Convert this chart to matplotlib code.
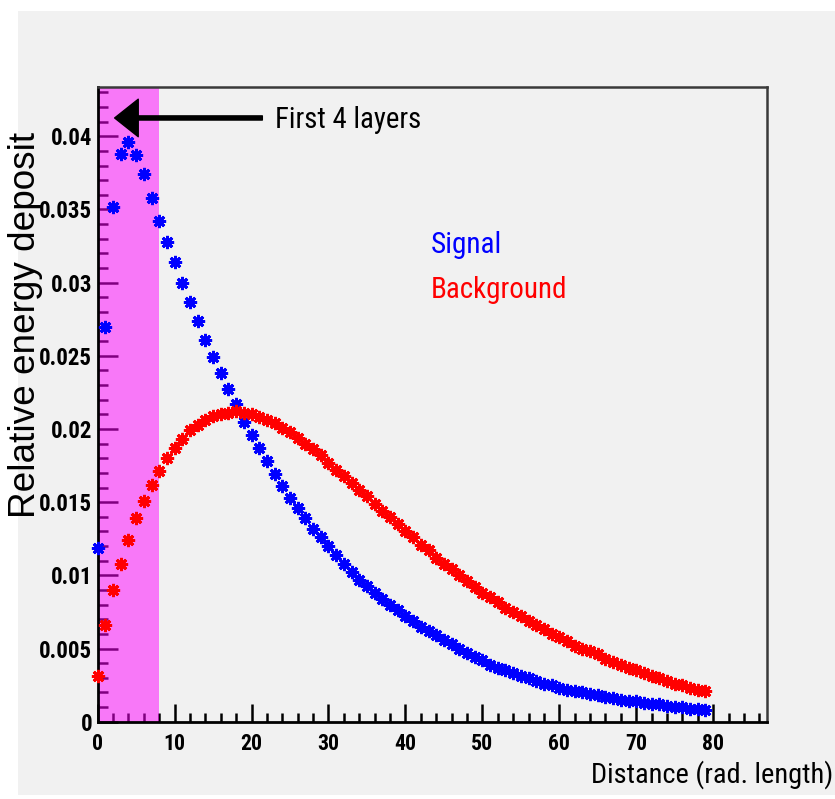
import matplotlib
matplotlib.use("Agg")
import matplotlib.pyplot as plt
from matplotlib import font_manager
from matplotlib.ticker import MultipleLocator, FixedLocator
from matplotlib.patches import Rectangle

# ---------------- data ----------------
distance = list(range(80))
signal = [0.0119, 0.0270, 0.0352, 0.0388, 0.0396, 0.0387, 0.0374, 0.0358, 0.0342, 0.0328,
          0.0314, 0.0300, 0.0287, 0.0274, 0.0261, 0.0249, 0.0238, 0.0227, 0.0217, 0.0205,
          0.0196, 0.0187, 0.0178, 0.0169, 0.0161, 0.0153, 0.0146, 0.0139, 0.0132, 0.0126,
          0.0120, 0.0114, 0.0108, 0.0102, 0.0097, 0.0093, 0.0088, 0.0084, 0.0080, 0.0076,
          0.0072, 0.0069, 0.0065, 0.0062, 0.0059, 0.0056, 0.0053, 0.0050, 0.0047, 0.0044,
          0.0042, 0.0039, 0.0037, 0.0035, 0.0033, 0.0031, 0.0030, 0.0028, 0.0026, 0.0025,
          0.0023, 0.0022, 0.0021, 0.0020, 0.0019, 0.0018, 0.0017, 0.0016, 0.0015, 0.0014,
          0.0014, 0.0013, 0.0012, 0.0012, 0.0011, 0.0010, 0.0010, 0.0009, 0.0009, 0.0008]
background = [0.0031, 0.0066, 0.0090, 0.0108, 0.0124, 0.0139, 0.0151, 0.0162, 0.0171, 0.0180,
              0.0187, 0.0193, 0.0199, 0.0203, 0.0206, 0.0209, 0.0210, 0.0211, 0.0212, 0.0211,
              0.0210, 0.0208, 0.0206, 0.0204, 0.0201, 0.0198, 0.0194, 0.0190, 0.0186, 0.0182,
              0.0177, 0.0172, 0.0168, 0.0163, 0.0158, 0.0154, 0.0149, 0.0144, 0.0140, 0.0135,
              0.0130, 0.0126, 0.0121, 0.0117, 0.0112, 0.0108, 0.0104, 0.0100, 0.0096, 0.0092,
              0.0088, 0.0085, 0.0082, 0.0078, 0.0075, 0.0072, 0.0069, 0.0066, 0.0063, 0.0060,
              0.0058, 0.0055, 0.0052, 0.0050, 0.0048, 0.0046, 0.0043, 0.0041, 0.0039, 0.0037,
              0.0035, 0.0033, 0.0031, 0.0030, 0.0028, 0.0026, 0.0025, 0.0023, 0.0022, 0.0021]
first_layers_end = 8
yticks = [0, 0.005, 0.01, 0.015, 0.02, 0.025, 0.03, 0.035, 0.04]
ytick_labels = ["0", "0.005", "0.01", "0.015", "0.02", "0.025", "0.03", "0.035", "0.04"]
xticks = [0, 10, 20, 30, 40, 50, 60, 70, 80]
xtick_labels = ["0", "10", "20", "30", "40", "50", "60", "70", "80"]

# ---------------- fonts ----------------
names = {f.name for f in font_manager.fontManager.ttflist}
prefs = ["Liberation Sans Narrow", "Arial Narrow", "Nimbus Sans Narrow",
         "Roboto Condensed", "Archivo Narrow", "PT Sans Narrow",
         "Encode Sans Condensed", "Barlow Semi Condensed"]
narrow_name = next((n for n in prefs if n in names), None)
NARROW = ([narrow_name] if narrow_name else []) + ["Liberation Sans", "DejaVu Sans"]
REG = ["Liberation Sans", "DejaVu Sans"]

W, H = 835, 799
fig = plt.figure(figsize=(W / 100, H / 100), dpi=100, facecolor="white")
renderer = fig.canvas.get_renderer()


def fit_size(s, target_px, weight="normal", family=None, base=20.0):
    t = fig.text(0, 0, s, fontsize=base, family=family or NARROW, fontweight=weight)
    w = t.get_window_extent(renderer).width
    t.remove()
    return base * target_px / w


grey = "#f1f1f1"
fig.patches.append(Rectangle((18 / W, 4 / H), (W - 18) / W, (H - 11 - 4) / H,
                             transform=fig.transFigure, facecolor=grey,
                             edgecolor="none", zorder=-10))

ax = fig.add_axes([97.7 / W, (H - 721.7) / H, (767 - 97.7) / W, (721.7 - 86.5) / H])
ax.set_facecolor(grey)
ax.set_xlim(0, 87)
ax.set_ylim(0, 0.0434)

marker = (8, 2, 0)
ax.plot(distance, signal, color="#0000ff", lw=0, marker=marker, ms=9.5, mew=2.0,
        zorder=3, clip_on=False)
ax.plot(distance, background, color="#ff0000", lw=0, marker=marker, ms=9.5, mew=2.0,
        zorder=3, clip_on=False)

ax.axvspan(0, first_layers_end, color="#ff00ff", alpha=0.5, lw=0, zorder=2.5)

for s in ["left", "bottom"]:
    ax.spines[s].set_color("black")
    ax.spines[s].set_linewidth(2.0)
for s in ["right", "top"]:
    ax.spines[s].set_color("#3a3a3a")
    ax.spines[s].set_linewidth(1.8)

ax.yaxis.set_major_locator(FixedLocator(yticks))
ax.set_yticklabels(ytick_labels)
ax.yaxis.set_minor_locator(MultipleLocator(0.001))
ax.xaxis.set_major_locator(FixedLocator(xticks))
ax.set_xticklabels(xtick_labels)
ax.xaxis.set_minor_locator(MultipleLocator(2))

ax.tick_params(axis="y", which="major", direction="in", length=14.5, width=1.8, pad=4)
ax.tick_params(axis="y", which="minor", direction="in", length=7.2, width=1.8)
ax.tick_params(axis="x", which="major", direction="in", length=13, width=1.8, pad=8)
ax.tick_params(axis="x", which="minor", direction="in", length=6.5, width=1.8)
ax.tick_params(which="both", top=False, right=False)

ysize = fit_size("0.035", 53, weight="bold")
xsize = fit_size("10", 22, weight="bold")
for lab in ax.get_yticklabels():
    lab.set_fontfamily(NARROW)
    lab.set_fontweight("bold")
    lab.set_fontsize(ysize)
for lab in ax.get_xticklabels():
    lab.set_fontfamily(NARROW)
    lab.set_fontweight("bold")
    lab.set_fontsize(xsize)

fig.text(26 / W, 1 - 324.5 / H, "Relative energy deposit", rotation=90,
         ha="center", va="center", family=REG,
         fontsize=fit_size("Relative energy deposit", 385, family=REG))
fig.text(833 / W, 1 - 775 / H, "Distance (rad. length)", ha="right", va="center",
         family=NARROW, fontsize=fit_size("Distance (rad. length)", 242))

ax.annotate("", xy=(2.2, 0.04125), xytext=(21.4, 0.04125),
            arrowprops=dict(facecolor="black", edgecolor="black", width=3,
                            headwidth=27, headlength=17, shrink=0), zorder=5)
ax.text(23.0, 0.04109, "First 4 layers", ha="left", va="center",
        family=NARROW, fontsize=fit_size("First 4 layers", 146), color="black")
ax.text(43.3, 0.03256, "Signal", ha="left", va="center",
        family=NARROW, fontsize=fit_size("Signal", 71), color="#0000ff")
ax.text(43.3, 0.02948, "Background", ha="left", va="center",
        family=NARROW, fontsize=fit_size("Background", 136), color="#ff0000")

fig.savefig("out.png", dpi=100, facecolor="white")
